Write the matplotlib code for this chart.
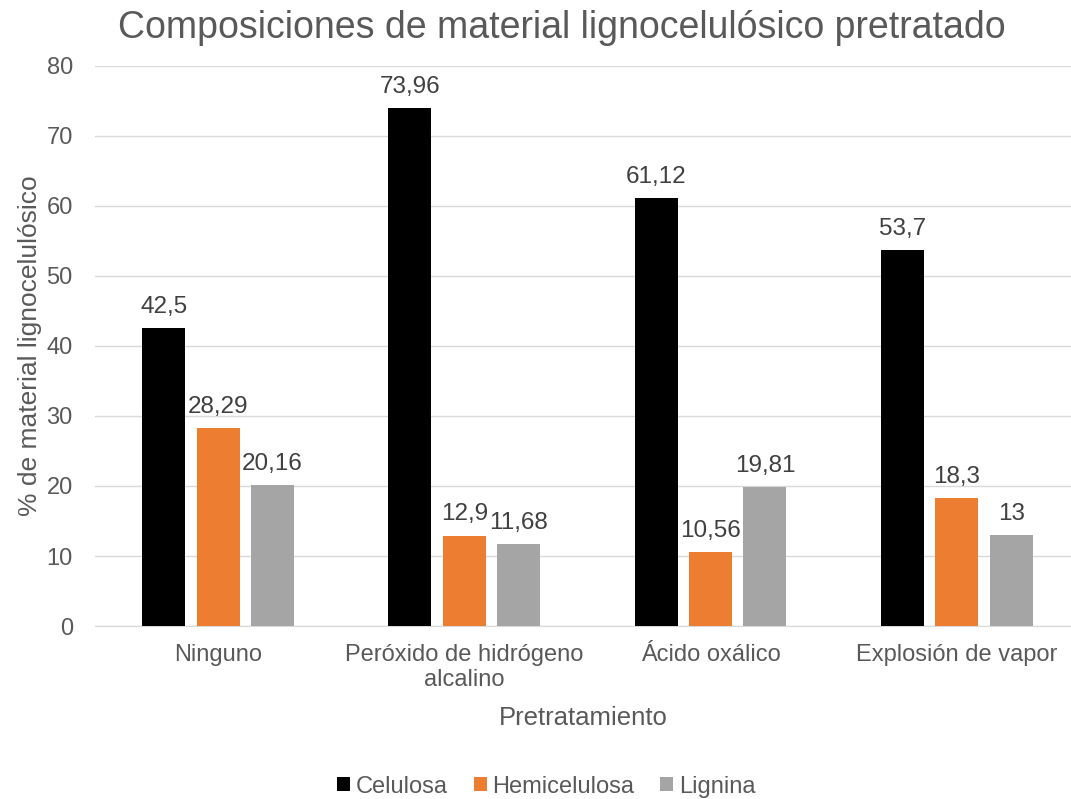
import numpy as np
import matplotlib.pyplot as plt

plt.rcParams['font.family'] = ['Liberation Sans', 'DejaVu Sans']

# datos
pretratamientos = ["Ninguno", "Peróxido de hidrógeno\nalcalino", "Ácido oxálico", "Explosión de vapor"]
celulosa = [42.5, 73.96, 61.12, 53.7]
hemicelulosa = [28.29, 12.9, 10.56, 18.3]
lignina = [20.16, 11.68, 19.81, 13]

series = ["Celulosa", "Hemicelulosa", "Lignina"]
colores = ["#000000", "#ED7D31", "#A5A5A5"]
txt = "#595959"

fig = plt.figure(figsize=(10.71, 7.99), dpi=100)
ax = fig.add_axes([0.0887, 0.2165, 0.9113, 0.701])

x = np.arange(len(pretratamientos))
w = 0.175
offs = [-0.221, 0, 0.221]

def etiqueta(v):
    s = ("%.2f" % v).rstrip("0").rstrip(".")
    return s.replace(".", ",")

for vals, nombre, c, o in zip([celulosa, hemicelulosa, lignina], series, colores, offs):
    bars = ax.bar(x + o, vals, w, color=c, label=nombre, zorder=3)
    for b, v in zip(bars, vals):
        ax.annotate(etiqueta(v), (b.get_x() + b.get_width() / 2, v),
                    xytext=(0, 11), textcoords="offset points",
                    ha="center", va="baseline", fontsize=17.5, color="#404040")

ax.set_xlim(-0.5, 3.464)
ax.set_ylim(0, 80)
ax.set_yticks(range(0, 81, 10))
ax.set_xticks(x)
ax.set_xticklabels(pretratamientos, fontsize=17, color=txt, va="top", linespacing=1.15)
ax.tick_params(axis="y", labelsize=17, colors=txt, length=0, pad=16)
ax.tick_params(axis="x", length=0, pad=13)
ax.grid(axis="y", color="#D9D9D9", lw=1, zorder=0)
for s in ["top", "right", "left"]:
    ax.spines[s].set_visible(False)
ax.spines["bottom"].set_color("#D9D9D9")

fig.text(0.525, 0.9524, "Composiciones de material lignocelulósico pretratado",
         fontsize=27, color=txt, ha="center", va="baseline")
ax.set_xlabel("Pretratamiento", fontsize=18.5, color=txt, labelpad=11)
ax.set_ylabel("% de material lignocelulósico", fontsize=19, color=txt, labelpad=3)

fig.legend(loc="lower center", bbox_to_anchor=(0.51, -0.025), ncol=3, frameon=False,
           fontsize=17, handlelength=0.55, handleheight=0.55, handletextpad=0.25,
           columnspacing=1.1, labelcolor=txt)

fig.savefig("out.png", dpi=100)
